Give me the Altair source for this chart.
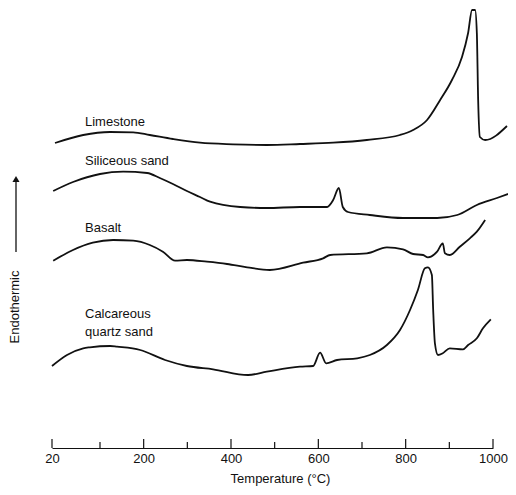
import altair as alt
import pandas as pd

# ---- data (temperature in °C, signal in arbitrary offset units) ----
limestone_t = [25, 72, 123, 176, 214, 267, 329, 405, 482, 558, 634, 711, 787, 817, 849, 879, 906, 929, 943, 952, 959, 963, 966, 970, 982, 1032]
limestone_y = [305, 313, 316, 315.7, 313, 309, 305.3, 303.7, 303, 304, 305.3, 308, 313, 318, 328, 348, 368, 391, 415, 438, 438, 415, 348, 311, 308, 322]

siliceous_t = [22, 55, 100, 153, 208, 237, 267, 299, 329, 352, 421, 482, 558, 620, 634, 647, 656, 668, 718, 794, 872, 918, 963, 1009, 1053]
siliceous_y = [257, 266, 274, 276.3, 275, 270, 264, 257, 251, 246.3, 241, 240, 241, 241, 248, 260, 241, 236, 233, 230, 230, 233, 243, 250, 257]

basalt_t = [22, 55, 88, 130, 176, 214, 244, 272, 299, 345, 391, 437, 489, 565, 611, 627, 711, 757, 794, 817, 840, 851, 872, 885, 890, 901, 924, 947, 963, 982]
basalt_y = [187.3, 198, 205.3, 208, 207.3, 203, 196.3, 187.3, 188, 186.3, 184, 180.7, 178, 185.3, 189.7, 193, 194.7, 200.7, 198.7, 194, 193, 190.7, 196.3, 204.7, 194.7, 193, 201.3, 209.7, 216.3, 228]

calcareous_t = [20, 45, 72, 83, 123, 139, 192, 249, 299, 359, 439, 482, 558, 588, 604, 618, 643, 689, 718, 757, 787, 810, 828, 844, 851, 860, 863, 867, 874, 885, 901, 931, 943, 963, 977, 995]
calcareous_y = [82, 93, 99.7, 100.7, 102, 101.3, 98, 88, 82, 78.7, 73, 76.3, 81.3, 82, 95.3, 84.7, 88, 89.7, 93, 103, 118, 138, 158, 179.7, 180.7, 173, 138, 104.7, 93, 94.7, 99.7, 98.7, 103, 109.7, 119.7, 128.7]

label_text = ["Limestone", "Siliceous sand", "Basalt", "Calcareous", "quartz sand"]
label_t = [75, 75, 75, 75, 75]
label_y = [326, 287, 220, 134, 116]

major_ticks = [20, 200, 400, 600, 800, 1000]
minor_ticks = [100, 300, 500, 700, 900]

# ---- tables ----
rows = []
for name, ts, ys in [("Limestone", limestone_t, limestone_y),
                     ("Siliceous sand", siliceous_t, siliceous_y),
                     ("Basalt", basalt_t, basalt_y),
                     ("Calcareous quartz sand", calcareous_t, calcareous_y)]:
    for t, y in zip(ts, ys):
        rows.append({"series": name, "t": t, "y": y})
curves = pd.DataFrame(rows)
labels = pd.DataFrame({"text": label_text, "t": label_t, "y": label_y})
majors = pd.DataFrame({"t": major_ticks})
minors = pd.DataFrame({"t": minor_ticks})

FONT = "Liberation Sans"
INK = "#111111"
xscale = alt.Scale(domain=[20, 100, 1000], range=[0, 48, 441], nice=False, zero=False)
yscale = alt.Scale(domain=[0, 440], nice=False, zero=False)

lines = alt.Chart(curves).mark_line(color=INK, strokeWidth=1.8, interpolate="monotone", clip=False).encode(
    x=alt.X("t:Q", scale=xscale,
            axis=alt.Axis(values=major_ticks, format="d", ticks=False, grid=False, domainColor=INK, domainWidth=1.2,
                          labelFont=FONT, labelFontSize=13, labelColor=INK, labelPadding=4,
                          labelFlush=False, labelOverlap=False,
                          title="Temperature (°C)", titleFont=FONT, titleFontSize=13,
                          titleFontWeight="normal", titleColor=INK, titlePadding=7, titleX=228)),
    y=alt.Y("y:Q", scale=yscale, axis=None),
    detail="series:N",
)

text_labels = alt.Chart(labels).mark_text(align="left", baseline="middle", font=FONT, fontSize=13, color=INK).encode(
    x=alt.X("t:Q", scale=xscale), y=alt.Y("y:Q", scale=yscale), text="text:N"
)

major_rules = alt.Chart(majors).mark_rule(color=INK, strokeWidth=1.2).encode(
    x=alt.X("t:Q", scale=xscale), y=alt.value(431), y2=alt.value(440)
)
minor_rules = alt.Chart(minors).mark_rule(color=INK, strokeWidth=1.2).encode(
    x=alt.X("t:Q", scale=xscale), y=alt.value(434), y2=alt.value(440)
)

one = pd.DataFrame({"a": [0]})
arrow_line = alt.Chart(one).mark_rule(color=INK, strokeWidth=1.3).encode(
    x=alt.value(-36), y=alt.value(172), y2=alt.value(244)
)
arrow_head = alt.Chart(one).mark_point(shape="triangle-up", filled=True, color=INK, size=50, opacity=1).encode(
    x=alt.value(-36), y=alt.value(171)
)
ylabel = alt.Chart(one).mark_text(text="Endothermic", angle=270, align="center", baseline="middle",
                                  font=FONT, fontSize=13, color=INK).encode(
    x=alt.value(-37), y=alt.value(299)
)

chart = alt.layer(lines, text_labels, major_rules, minor_rules, arrow_line, arrow_head, ylabel).properties(
    width=441, height=440,
    autosize="none",
    padding={"left": 44, "top": 0, "right": 15, "bottom": 39},
).configure_view(stroke=None)

chart.save("out.html", embed_options={"renderer": "svg", "actions": False})
